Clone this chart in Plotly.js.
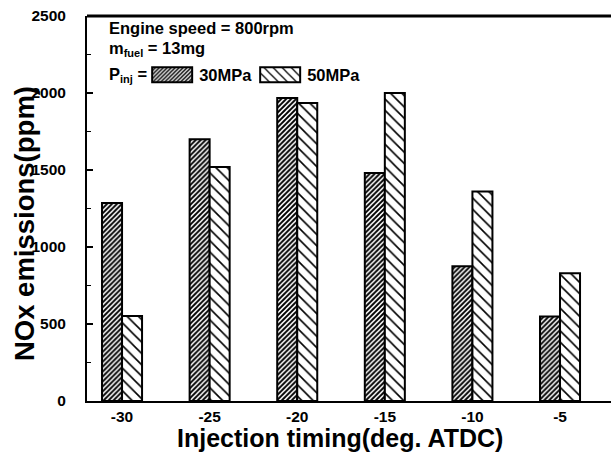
<!DOCTYPE html>
<html><head><meta charset="utf-8">
<script src="https://cdn.plot.ly/plotly-3.0.1.min.js"></script>
<style>html,body{margin:0;padding:0;background:#fff;overflow:hidden}#plot{width:611px;height:452px}</style>
</head><body><div id="plot"></div>
<script>
const timings = [-30, -25, -20, -15, -10, -5];
const timingLabels = ['-30', '-25', '-20', '-15', '-10', '-5'];
const nox30 = [1285, 1700, 1968, 1480, 875, 548];
const nox50 = [552, 1520, 1935, 2000, 1360, 830];
const seriesNames = ['30MPa', '50MPa'];
const yTicks = [0, 500, 1000, 1500, 2000, 2500];

const F = 'Arial, "Liberation Sans", sans-serif';
const data = [
  {type:'bar', x:timings, y:nox30, name:seriesNames[0],
   marker:{color:'#fff', line:{color:'#000', width:2},
     pattern:{shape:'/', size:3.5, solidity:0.55, fgcolor:'#000', bgcolor:'#fff'}}},
  {type:'bar', x:timings, y:nox50, name:seriesNames[1],
   marker:{color:'#fff', line:{color:'#000', width:2},
     pattern:{shape:'\\', size:8, solidity:0.2, fgcolor:'#000', bgcolor:'#fff'}}}
];
const layout = {
  width:611, height:452,
  margin:{l:87, r:0, t:16, b:51},
  paper_bgcolor:'#fff', plot_bgcolor:'#fff',
  barmode:'group', bargap:0.543, bargroupgap:0,
  font:{family:F, color:'#000'},
  xaxis:{range:[-32, -2.09], tickvals:timings, ticktext:timingLabels, ticks:'', showgrid:false, zeroline:false,
    showline:true, linecolor:'#000', linewidth:2, mirror:false,
    tickfont:{size:15.5, family:F, weight:'bold'}},
  yaxis:{range:[0, 2500], tickvals:yTicks, ticks:'inside', ticklen:6, tickwidth:2, tickcolor:'#000',
    minor:{dtick:250, ticks:'inside', ticklen:4, tickwidth:1.5, tickcolor:'#000', showgrid:false},
    showgrid:false, zeroline:false, showline:true, linecolor:'#000', linewidth:2,
    ticklabelstandoff:16,
    tickfont:{size:15.5, family:F, weight:'bold'}},
  shapes:[{type:'line', xref:'paper', yref:'paper', x0:0, x1:1, y0:1, y1:1, line:{color:'#000', width:3}}],
  showlegend:true,
  legend:{orientation:'h', x:0.111, y:0.847, xanchor:'left', yanchor:'middle',
    font:{size:16.5, family:F, weight:'bold'}, bgcolor:'rgba(0,0,0,0)', itemwidth:44,
    entrywidth:49, entrywidthmode:'pixels', tracegroupgap:0},
  annotations:[
    {xref:'paper', yref:'paper', x:-0.118, y:0.46, xanchor:'center', yanchor:'middle', showarrow:false,
     textangle:-90, text:'<b>NOx emissions(ppm)</b>', font:{size:27.5, family:F}},
    {xref:'paper', yref:'paper', x:0.483, y:-0.096, xanchor:'center', yanchor:'middle', showarrow:false,
     text:'<b>Injection timing(deg. ATDC)</b>', font:{size:25, family:F}},
    {xref:'paper', yref:'paper', x:0.038, y:0.969, xanchor:'left', yanchor:'middle', showarrow:false,
     text:'<b>Engine speed = 800rpm</b>', font:{size:16.5, family:F}},
    {xref:'paper', yref:'paper', x:0.038, y:0.915, xanchor:'left', yanchor:'middle', showarrow:false,
     text:'<b>m<sub><span style="font-size:11px">fuel</span></sub> = 13mg</b>', font:{size:16.5, family:F}},
    {xref:'paper', yref:'paper', x:0.038, y:0.847, xanchor:'left', yanchor:'middle', showarrow:false,
     text:'<b>P<sub><span style="font-size:11px">inj</span></sub> =</b>', font:{size:16.5, family:F}}
  ]
};
Plotly.newPlot('plot', data, layout, {displayModeBar:false, staticPlot:true}).then(function(gd){
  gd.querySelectorAll('.legend .legendpoints path').forEach(function(p){
    p.setAttribute('d', 'M20,7.5H-20V-7.5H20Z');
    p.style.strokeWidth = '2px';
  });
});
</script></body></html>
